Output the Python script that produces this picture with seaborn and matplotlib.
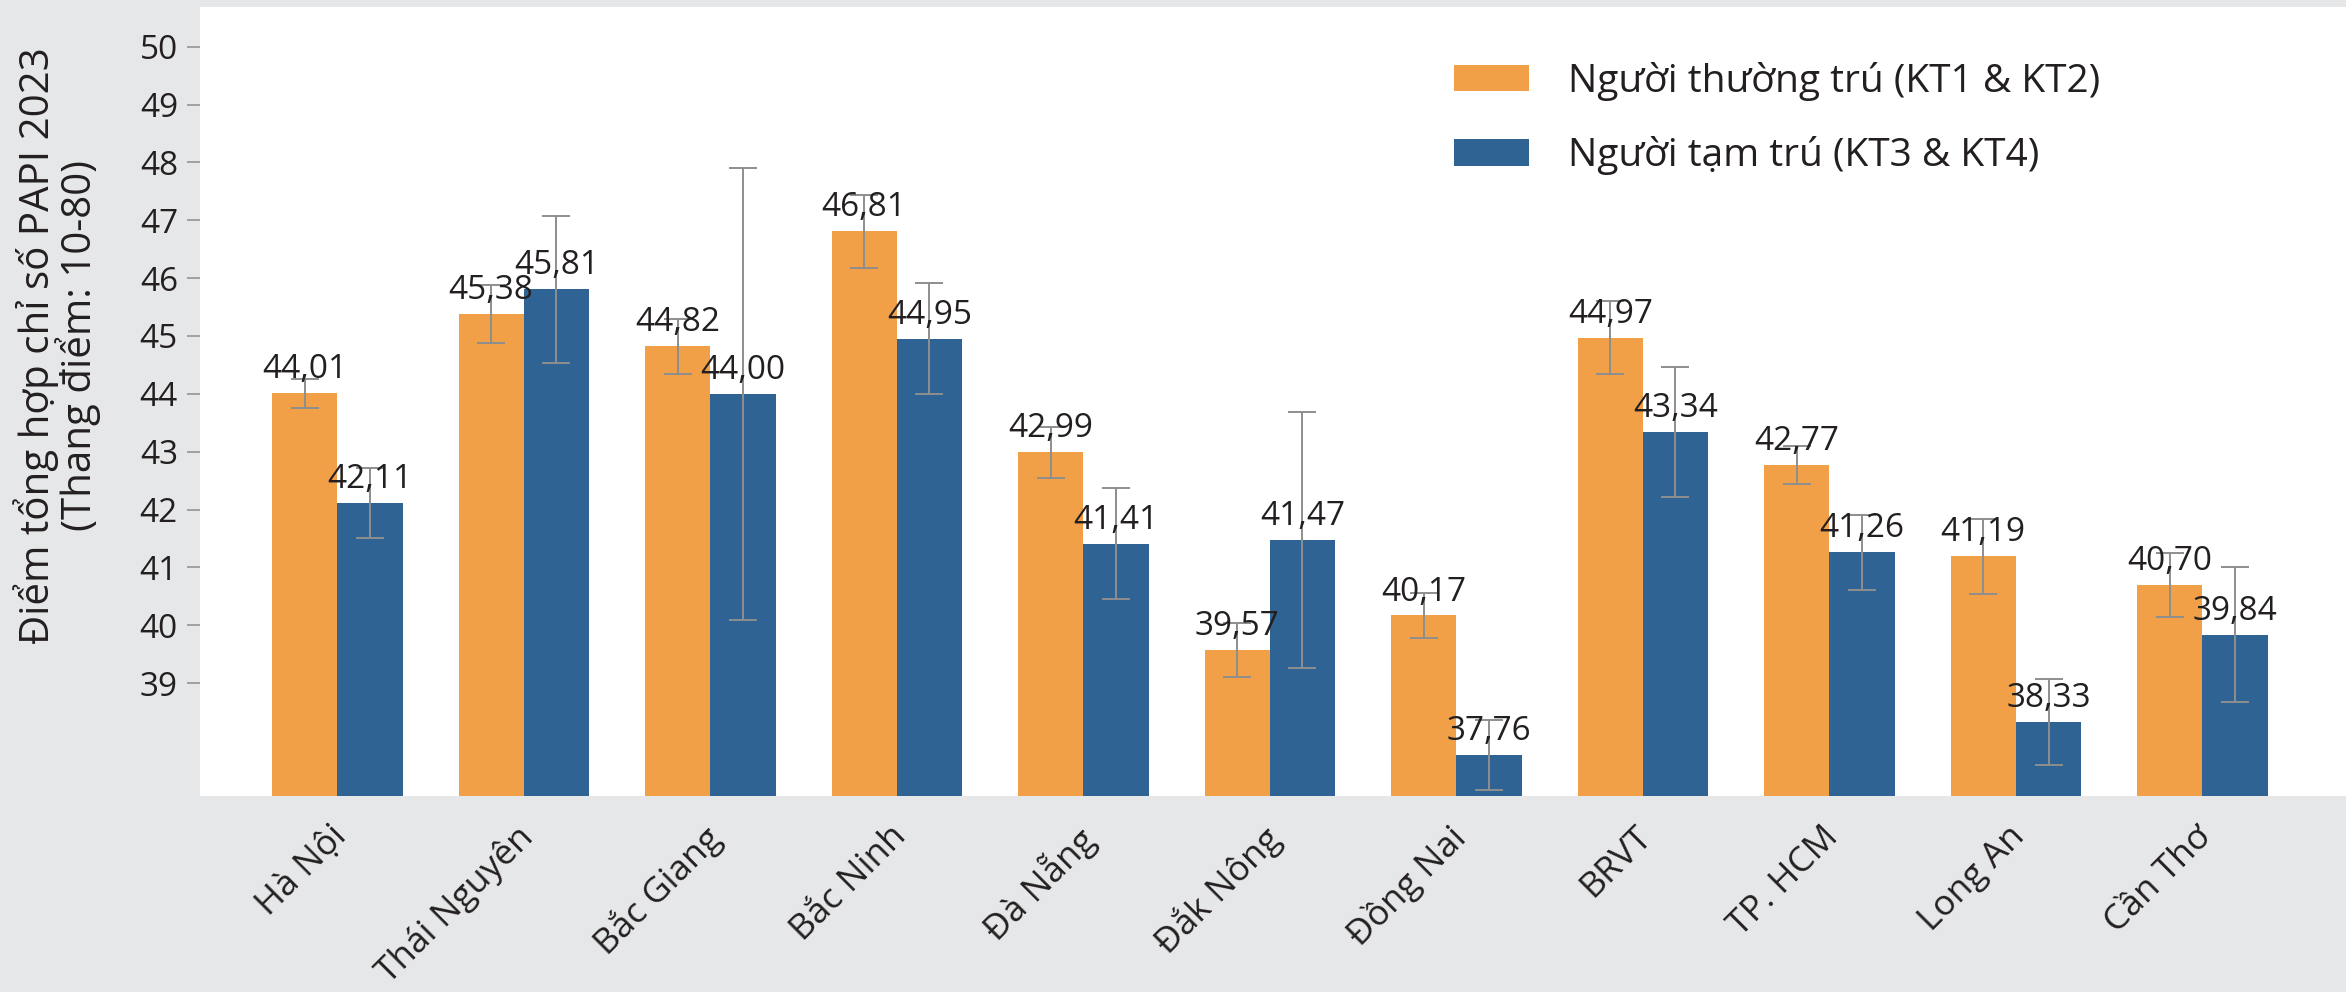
import matplotlib
matplotlib.use("Agg")
import matplotlib.pyplot as plt
from matplotlib.transforms import ScaledTranslation
import pandas as pd
import seaborn as sns

# --- data -------------------------------------------------------------
provinces = ["Hà Nội", "Thái Nguyên", "Bắc Giang", "Bắc Ninh", "Đà Nẵng",
             "Đắk Nông", "Đồng Nai", "BRVT", "TP. HCM", "Long An", "Cần Thơ"]
series_names = ["Người thường trú (KT1 & KT2)", "Người tạm trú (KT3 & KT4)"]
permanent = [44.01, 45.38, 44.82, 46.81, 42.99, 39.57, 40.17, 44.97, 42.77, 41.19, 40.70]
temporary = [42.11, 45.81, 44.00, 44.95, 41.41, 41.47, 37.76, 43.34, 41.26, 38.33, 39.84]
# half-width of the confidence intervals
permanent_ci = [0.25, 0.50, 0.47, 0.63, 0.44, 0.47, 0.39, 0.63, 0.33, 0.65, 0.55]
temporary_ci = [0.60, 1.27, 3.90, 0.96, 0.96, 2.21, 0.60, 1.12, 0.65, 0.75, 1.16]
y_ticks = list(range(39, 51))
y_label = "Điểm tổng hợp chỉ số PAPI 2023\n(Thang điểm: 10-80)"

ORANGE = "#F1A048"
BLUE = "#2F6393"
BG = "#E6E7E8"
TEXT = "#231F20"
ERR = "#8E8E8E"

plt.rcParams["font.family"] = ["Open Sans", "DejaVu Sans"]

df = pd.DataFrame({
    "province": provinces * 2,
    "group": [series_names[0]] * len(provinces) + [series_names[1]] * len(provinces),
    "score": permanent + temporary,
})

W, H = 2346, 992
fig = plt.figure(figsize=(W / 100, H / 100), dpi=100, facecolor=BG)
ax = fig.add_axes([200 / W, 1 - 796 / H, (W - 200) / W, (796 - 7.3) / H])
ax.set_facecolor("white")

sns.barplot(data=df, x="province", y="score", hue="group",
            order=provinces, hue_order=series_names,
            palette=[ORANGE, BLUE], saturation=1, width=0.7,
            errorbar=None, linewidth=0, ax=ax)

ax.set_ylim(37.05, 50.68)
ax.set_xlim(-0.736, 10.77)

# error bars and value labels on each series
for container, vals, ci in zip(ax.containers, [permanent, temporary],
                               [permanent_ci, temporary_ci]):
    centers = [p.get_x() + p.get_width() / 2 for p in container]
    ax.errorbar(centers, vals, yerr=ci, fmt="none", ecolor=ERR,
                elinewidth=1.4, capsize=10.4, capthick=1.4, zorder=4)
    ax.bar_label(container,
                 labels=[f"{v:.2f}".replace(".", ",") for v in vals],
                 padding=5, fontsize=24, color=TEXT, zorder=5)

for s in ax.spines.values():
    s.set_visible(False)

ax.set_yticks(y_ticks)
ax.tick_params(axis="y", length=9.4, width=1.3, color="#9B9B9B", pad=6.5,
               labelsize=24, labelcolor=TEXT)
ax.tick_params(axis="x", length=0, pad=17, labelsize=25.5, labelcolor=TEXT)
shift = ScaledTranslation(-0.08, 0, fig.dpi_scale_trans)
for lbl in ax.get_xticklabels():
    lbl.set_rotation(45)
    lbl.set_ha("right")
    lbl.set_va("top")
    lbl.set_rotation_mode("anchor")
    lbl.set_transform(lbl.get_transform() + shift)

ax.set_xlabel("")
ax.set_ylabel(y_label, fontsize=29, color=TEXT, linespacing=0.88)
ax.yaxis.set_label_coords((57 - 200) / (W - 200), 0.571)
ax.yaxis.label.set_verticalalignment("center")

handles, labels = ax.get_legend_handles_labels()
ax.legend(handles, labels, loc="upper left", bbox_to_anchor=(0.5843, 0.931),
          frameon=False, fontsize=28, handlelength=1.93, handleheight=0.67,
          handletextpad=1.0, labelspacing=0.91, borderpad=0, borderaxespad=0,
          labelcolor=TEXT)

fig.savefig("out.png", dpi=100, facecolor=BG)
